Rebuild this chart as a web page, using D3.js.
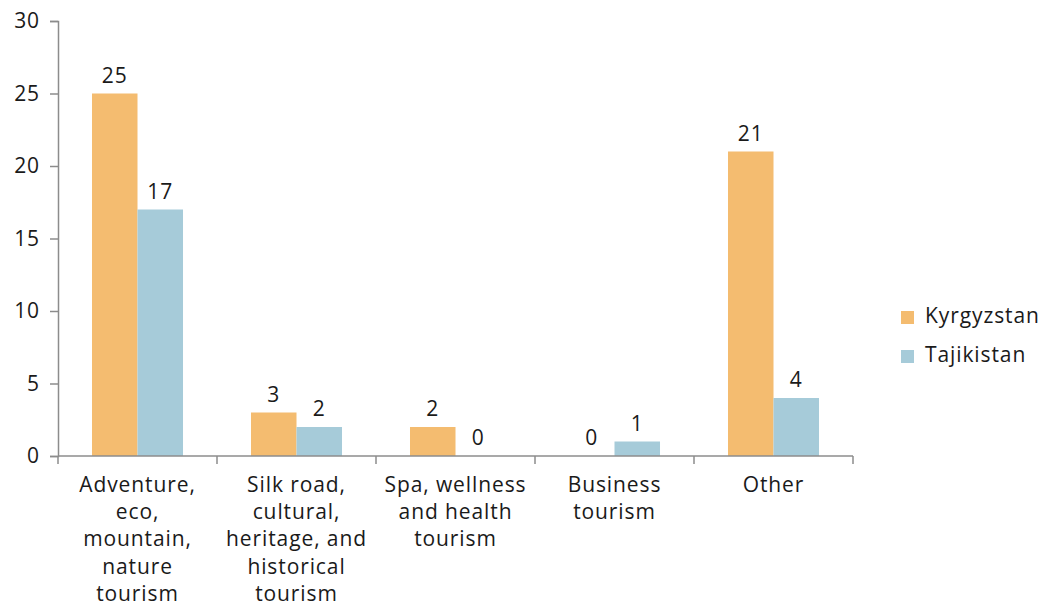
<!DOCTYPE html>
<html><head><meta charset="utf-8">
<script src="https://cdn.jsdelivr.net/npm/d3@7"></script>
<style>body{margin:0;background:#fff}svg{display:block}text{font-family:"Open Sans",sans-serif;fill:#1a1a1a;letter-spacing:0.9px}</style>
</head><body>
<svg id="c" width="1044" height="607"></svg>
<script>
const categories = [
  ["Adventure,","eco,","mountain,","nature","tourism"],
  ["Silk road,","cultural,","heritage, and","historical","tourism"],
  ["Spa, wellness","and health","tourism"],
  ["Business","tourism"],
  ["Other"]
];
const seriesNames = ["Kyrgyzstan","Tajikistan"];
const kyrgyzstan = [25,3,2,0,21];
const tajikistan = [17,2,0,1,4];
const yTicks = [0,5,10,15,20,25,30];
const colors = ["#F4BC70","#A6CBD9"];

(function(){
const svg = d3.select("#c");
const mLeft = 58, mRight = 853, mTop = 21, mBottom = 456;
const x0 = d3.scaleBand().domain(d3.range(categories.length)).range([mLeft,mRight]).paddingInner(0).paddingOuter(0);
const x1 = d3.scaleBand().domain([0,1]).range([0,x0.bandwidth()]).paddingInner(0).paddingOuter(0.747);
const y = d3.scaleLinear().domain([0,30]).range([mBottom,mTop]);
const axisColor = "#8c8c8c";
const fs = 21;

// y axis
const ya = svg.append("g").attr("transform",`translate(${mLeft},0)`)
  .call(d3.axisLeft(y).tickValues(yTicks).tickSize(8).tickPadding(10));
ya.select(".domain").attr("stroke",axisColor).attr("stroke-width",1.5);
ya.selectAll(".tick line").attr("stroke",axisColor).attr("stroke-width",1.5);
ya.selectAll(".tick text").attr("font-size",fs).attr("font-family","Open Sans").attr("fill","#1a1a1a");

// bars
const data = [kyrgyzstan,tajikistan];
data.forEach((vals,s)=>{
  svg.append("g").selectAll("rect").data(vals).join("rect")
    .attr("x",(d,i)=>x0(i)+x1(s))
    .attr("width",x1.bandwidth())
    .attr("y",d=>y(d))
    .attr("height",d=>mBottom-y(d))
    .attr("fill",colors[s]);
  svg.append("g").selectAll("text").data(vals).join("text")
    .attr("x",(d,i)=>x0(i)+x1(s)+x1.bandwidth()/2)
    .attr("y",d=>y(d)-11)
    .attr("text-anchor","middle")
    .attr("font-size",fs)
    .text(d=>d);
});

// x axis
const xa = svg.append("g").attr("transform",`translate(0,${mBottom})`)
  .call(d3.axisBottom(x0).tickSize(0).tickFormat(""));
xa.select(".domain").attr("stroke",axisColor).attr("stroke-width",1.5).attr("d",`M${mLeft},0H${mRight}`);
const bounds = d3.range(categories.length+1).map(i=> i<categories.length ? x0(i) : x0(i-1)+x0.bandwidth());
xa.selectAll(".bt").data(bounds).join("line").attr("class","bt")
  .attr("x1",d=>d).attr("x2",d=>d).attr("y1",0).attr("y2",8)
  .attr("stroke",axisColor).attr("stroke-width",1.5);

// category labels
categories.forEach((lines,i)=>{
  const t = svg.append("text").attr("text-anchor","middle").attr("font-size",fs);
  lines.forEach((ln,j)=>{
    t.append("tspan").attr("x",x0(i)+x0.bandwidth()/2).attr("y",492+j*27.2).text(ln);
  });
});

// legend
seriesNames.forEach((n,i)=>{
  svg.append("rect").attr("x",901).attr("y",311+i*39).attr("width",13).attr("height",13).attr("fill",colors[i]);
  svg.append("text").attr("x",925).attr("y",323+i*39).attr("font-size",fs).text(n);
});
})();
</script>
</body></html>
